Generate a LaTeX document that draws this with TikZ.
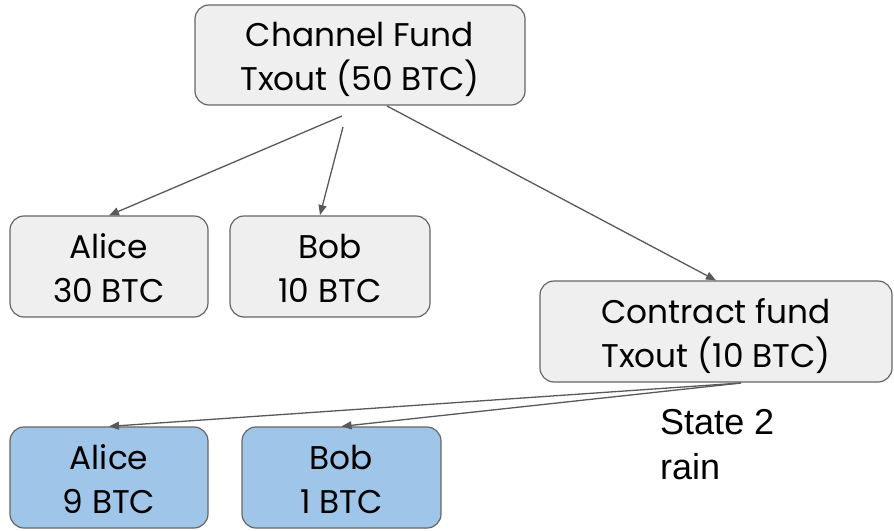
\documentclass[tikz,border=0pt]{standalone}
\usepackage{fontspec}
\setmainfont{Poppins}
\newfontfamily\arialfont{Liberation Sans}
\usetikzlibrary{arrows.meta}
\definecolor{boxgray}{HTML}{EFEFEF}
\definecolor{boxblue}{HTML}{9FC5E8}
\definecolor{edgegray}{HTML}{666666}
\definecolor{linegray}{HTML}{595959}
\newcommand{\myTopRule}{\rule{0pt}{37pt}}
\newcommand{\myBotRule}{\rule[-10pt]{0pt}{10pt}}
\begin{document}
\begin{tikzpicture}[x=1pt,y=-1pt,
  box/.style={draw=edgegray, line width=1.2pt, rounded corners=14pt, fill=boxgray,
    align=center, inner sep=0pt, minimum height=101pt,
    font=\fontsize{32.8}{44}\selectfont, text=black},
  bluebox/.style={box, fill=boxblue},
  link/.style={draw=linegray, line width=1.3pt, -{Triangle[length=10pt,width=8pt]}}]
\fill[white] (0,0) rectangle (894,530);
\useasboundingbox (0,0) rectangle (894,530);

\node[box, minimum width=330pt, minimum height=100pt] (top) at (360,55) {\myTopRule Channel Fund\\Txout (50 BTC)\myBotRule};
\node[box, minimum width=198pt] (alice1) at (109,266.5) {\myTopRule Alice\\30 BTC\myBotRule};
\node[box, minimum width=200pt] (bob1) at (330,266.5) {\myTopRule Bob\\10 BTC\myBotRule};
\node[box, minimum width=352pt] (contract) at (716,331.5) {\myTopRule Contract fund\\Txout (10 BTC)\myBotRule};
\node[bluebox, minimum width=198pt] (alice2) at (109,477.5) {\myTopRule Alice\\9 BTC\myBotRule};
\node[bluebox, minimum width=199pt] (bob2) at (341.5,477.5) {\myTopRule Bob\\1 BTC\myBotRule};

\node[anchor=north west, inner sep=0pt, align=left, font=\arialfont\fontsize{36}{45}\selectfont] (state) at (660,409) {State 2\\rain};

\coordinate (s1) at (342,116);
\coordinate (s2) at (343,127);
\coordinate (s3) at (387,106);
\coordinate (t2) at (320,215);
\coordinate (c1) at (741,383);

\draw[link] (s1) -- (alice1.north);
\draw[link] (s2) -- (t2);
\draw[link] (s3) -- (contract.north);
\draw[link] (c1) -- (alice2.north);
\draw[link] (c1) -- (bob2.north);
\end{tikzpicture}
\end{document}
